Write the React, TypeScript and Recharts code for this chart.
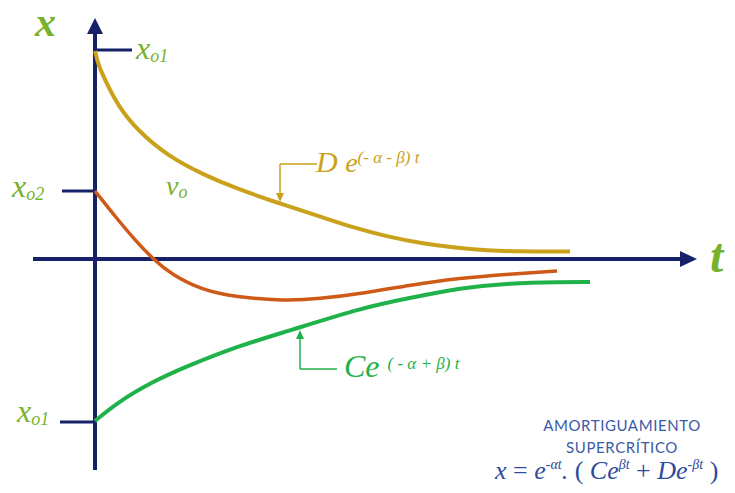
import { ComposedChart, Line, XAxis, YAxis, ReferenceLine, ReferenceDot } from 'recharts'

// time samples and displacement for each curve
const goldT = [0, 0.06, 0.2, 0.46, 0.86, 1.46, 2.14, 2.8, 3.66, 4.6, 5.16, 5.84, 6.5, 7.16, 7.84, 8.5, 9.16, 9.5]
const goldX = [4.16, 3.9, 3.58, 3.06, 2.56, 2.06, 1.7, 1.42, 1.12, 0.82, 0.63, 0.45, 0.32, 0.23, 0.17, 0.15, 0.15, 0.15]

const orangeT = [0, 0.46, 0.8, 1.16, 1.54, 2.14, 2.8, 3.8, 4.46, 5.4, 6.3, 7.3, 8.3, 9.24]
const orangeX = [1.36, 0.78, 0.38, 0, -0.32, -0.62, -0.76, -0.84, -0.8, -0.68, -0.52, -0.38, -0.3, -0.24]

const greenT = [0, 0.46, 1.14, 1.8, 2.8, 3.8, 5.4, 6.3, 7.3, 8.3, 9.3, 9.9]
const greenX = [-3.24, -2.86, -2.46, -2.16, -1.76, -1.46, -0.96, -0.78, -0.58, -0.48, -0.46, -0.46]

// initial values marked on the x axis
const x01 = 4.18
const x02 = 1.36
const x01Neg = -3.26

const NAVY = '#15226a'
const GOLD = '#c9a11a'
const ORANGE = '#cf5a17'
const GREEN = '#1fb24a'
const LABEL_GREEN = '#78b22c'
const BLUE = '#3a5aa6'

const W = 735
const H = 493

const toRows = (ts: number[], xs: number[]) => ts.map((t, i) => ({ t, x: xs[i] }))

const arrowUp = (color: string, w: number, h: number) => (p: any) => (
  <polygon points={`${p.cx},${p.cy} ${p.cx - w / 2},${p.cy + h} ${p.cx + w / 2},${p.cy + h}`} fill={color} />
)
const arrowDown = (color: string, w: number, h: number) => (p: any) => (
  <polygon points={`${p.cx},${p.cy} ${p.cx - w / 2},${p.cy - h} ${p.cx + w / 2},${p.cy - h}`} fill={color} />
)
const arrowRight = (color: string, w: number, h: number) => (p: any) => (
  <polygon points={`${p.cx},${p.cy} ${p.cx - h},${p.cy - w / 2} ${p.cx - h},${p.cy + w / 2}`} fill={color} />
)

const serif = '"Liberation Serif", "DejaVu Serif", serif'

const abs = (left: number, top: number, extra: React.CSSProperties = {}): React.CSSProperties => ({
  position: 'absolute',
  left,
  top,
  lineHeight: 1,
  whiteSpace: 'nowrap',
  fontFamily: serif,
  fontStyle: 'italic',
  ...extra,
})

function XoLabel({ left, top, sub }: { left: number; top: number; sub: string }) {
  return (
    <div style={abs(left, top, { fontSize: 32, color: LABEL_GREEN })}>
      x<span style={{ fontSize: 18, position: 'relative', top: 3 }}>{sub}</span>
    </div>
  )
}

const sup = (top: number, size: number): React.CSSProperties => ({ fontSize: size, position: 'relative', top })

export default function App() {
  return (
    <div style={{ position: 'absolute', left: 0, top: 0, width: W, height: H, background: '#fff' }}>
      <ComposedChart width={W} height={H} margin={{ top: 0, right: 0, bottom: 0, left: 0 }}>
        <XAxis type="number" dataKey="t" domain={[-1.9, 12.8]} hide allowDataOverflow />
        <YAxis type="number" dataKey="x" domain={[-4.68, 5.18]} hide allowDataOverflow />

        {/* axes */}
        <ReferenceLine segment={[{ x: 0, y: -4.22 }, { x: 0, y: 4.6 }]} stroke={NAVY} strokeWidth={4} />
        <ReferenceLine segment={[{ x: -1.24, y: 0 }, { x: 11.8, y: 0 }]} stroke={NAVY} strokeWidth={4} />
        <ReferenceDot x={0} y={4.82} r={0} shape={arrowUp(NAVY, 16, 16)} />
        <ReferenceDot x={12.04} y={0} r={0} shape={arrowRight(NAVY, 16, 17)} />

        {/* initial value ticks */}
        <ReferenceLine segment={[{ x: 0, y: x01 }, { x: 0.74, y: x01 }]} stroke={NAVY} strokeWidth={3} />
        <ReferenceLine segment={[{ x: -0.66, y: x02 }, { x: 0, y: x02 }]} stroke={NAVY} strokeWidth={3} />
        <ReferenceLine segment={[{ x: -0.7, y: x01Neg }, { x: 0, y: x01Neg }]} stroke={NAVY} strokeWidth={3} />

        {/* leader arrows for the exponential terms */}
        <ReferenceLine segment={[{ x: 3.7, y: 1.9 }, { x: 4.44, y: 1.9 }]} stroke={GOLD} strokeWidth={1.5} />
        <ReferenceLine segment={[{ x: 3.7, y: 1.9 }, { x: 3.7, y: 1.3 }]} stroke={GOLD} strokeWidth={1.5} />
        <ReferenceDot x={3.7} y={1.14} r={0} shape={arrowDown(GOLD, 8, 9)} />
        <ReferenceLine segment={[{ x: 4.1, y: -2.2 }, { x: 4.84, y: -2.2 }]} stroke={GREEN} strokeWidth={1.5} />
        <ReferenceLine segment={[{ x: 4.1, y: -2.2 }, { x: 4.1, y: -1.6 }]} stroke={GREEN} strokeWidth={1.5} />
        <ReferenceDot x={4.1} y={-1.42} r={0} shape={arrowUp(GREEN, 8, 9)} />

        <Line data={toRows(goldT, goldX)} dataKey="x" type="basis" stroke={GOLD} strokeWidth={4} dot={false} activeDot={false} isAnimationActive={false} />
        <Line data={toRows(orangeT, orangeX)} dataKey="x" type="basis" stroke={ORANGE} strokeWidth={3.5} dot={false} activeDot={false} isAnimationActive={false} />
        <Line data={toRows(greenT, greenX)} dataKey="x" type="basis" stroke={GREEN} strokeWidth={4} dot={false} activeDot={false} isAnimationActive={false} />
      </ComposedChart>

      {/* axis names */}
      <div style={abs(35, 1, { fontSize: 42, lineHeight: '42px', fontWeight: 'bold', color: LABEL_GREEN })}>x</div>
      <div style={abs(710, 232, { fontSize: 48, fontWeight: 'bold', color: LABEL_GREEN })}>t</div>

      <XoLabel left={136} top={32} sub="o1" />
      <XoLabel left={12} top={170} sub="o2" />
      <XoLabel left={17} top={395} sub="o1" />

      <div style={abs(166, 172, { fontSize: 28, color: LABEL_GREEN })}>
        v<span style={sup(3, 18)}>o</span>
      </div>

      <div style={abs(316, 147, { fontSize: 30, color: GOLD })}>
        D <span style={{ fontSize: 28 }}>e</span>
        <span style={sup(-9, 17)}>(- α - β) t</span>
      </div>

      <div style={abs(344, 350, { fontSize: 32, color: GREEN })}>
        Ce <span style={sup(-8, 17)}>( - α + β) t</span>
      </div>

      <div
        style={{
          position: 'absolute',
          left: 512,
          top: 414,
          width: 220,
          textAlign: 'center',
          fontFamily: 'Lato, sans-serif',
          fontSize: 15,
          letterSpacing: 0.6,
          lineHeight: '22px',
          color: BLUE,
        }}
      >
        AMORTIGUAMIENTO
        <br />
        SUPERCRÍTICO
      </div>
      <div style={abs(495, 458, { fontSize: 26, color: '#2d4c9c' })}>
        x <span style={{ fontStyle: 'normal' }}>=</span> e
        <span style={sup(-10, 14)}>-αt</span>.{' '}
        <span style={{ fontStyle: 'normal' }}>(</span> Ce
        <span style={sup(-10, 14)}>βt</span>{' '}
        <span style={{ fontStyle: 'normal' }}>+</span> De
        <span style={sup(-10, 14)}>-βt</span>{' '}
        <span style={{ fontStyle: 'normal' }}>)</span>
      </div>
    </div>
  )
}
